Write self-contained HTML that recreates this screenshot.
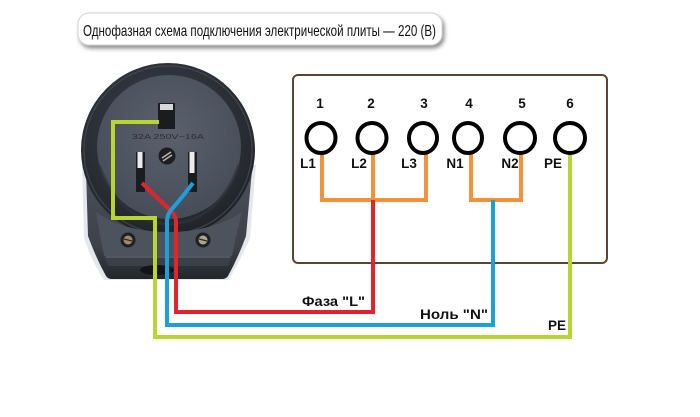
<!DOCTYPE html>
<html>
<head>
<meta charset="utf-8">
<style>
  html,body{margin:0;padding:0;background:#fff;}
  svg{display:block;}
</style>
</head>
<body>
<svg width="700" height="417" viewBox="0 0 700 417" xmlns="http://www.w3.org/2000/svg">
  <defs>
    <filter id="sh" x="-10%" y="-30%" width="120%" height="180%">
      <feGaussianBlur in="SourceAlpha" stdDeviation="2"/>
      <feOffset dx="2" dy="3" result="b"/>
      <feComponentTransfer><feFuncA type="linear" slope="0.45"/></feComponentTransfer>
      <feMerge><feMergeNode/><feMergeNode in="SourceGraphic"/></feMerge>
    </filter>
    <radialGradient id="ring" cx="0.45" cy="0.35" r="0.7">
      <stop offset="0" stop-color="#3a3e47"/>
      <stop offset="0.8" stop-color="#262930"/>
      <stop offset="1" stop-color="#1c1e23"/>
    </radialGradient>
    <radialGradient id="face" cx="0.5" cy="0.4" r="0.65">
      <stop offset="0" stop-color="#5a616d"/>
      <stop offset="1" stop-color="#454b56"/>
    </radialGradient>
    <linearGradient id="lower" x1="0" y1="0" x2="0" y2="1">
      <stop offset="0" stop-color="#4a505a"/>
      <stop offset="0.7" stop-color="#3c414a"/>
      <stop offset="1" stop-color="#23262c"/>
    </linearGradient>
  </defs>

  <!-- Title -->
  <rect x="78" y="13" width="364" height="32" rx="11" fill="#fff" stroke="#d4d4d4" stroke-width="1" filter="url(#sh)"/>
  <text x="83" y="36" font-family="Liberation Sans, sans-serif" font-size="16" fill="#111" textLength="353" lengthAdjust="spacingAndGlyphs">Однофазная схема подключения электрической плиты — 220 (В)</text>

  <!-- Socket: halo -->
  <path d="M82 165 L84 238 Q92 262 104 280 L228 280 Q240 262 250 238 L256 165 Z" fill="#c9d0da" opacity="0.5"/>
  <!-- lower body -->
  <path d="M86 170 L88 236 Q96 258 106 276 Q108 279 112 279 L222 279 Q226 279 228 276 Q238 258 246 236 L252 170 Z" fill="url(#lower)"/>
  <!-- outer round -->
  <circle cx="168" cy="150" r="87" fill="url(#ring)"/>
  <circle cx="168" cy="150" r="84" fill="none" stroke="#4a505a" stroke-width="1.2" opacity="0.7"/>
  <!-- lower plate -->
  <path d="M96 212 Q100 236 104 256 L232 256 Q236 236 242 212 Q212 232 168 232 Q124 232 96 212 Z" fill="#4d535d"/>
  <path d="M104 256 L232 256 L228 266 L108 266 Z" fill="#3a3f48"/>
  <line x1="106" y1="257" x2="230" y2="257" stroke="#6b727d" stroke-width="1"/>
  <!-- inner face -->
  <circle cx="169" cy="147" r="72" fill="url(#face)"/>
  <path d="M99 165 Q120 222 169 224 Q218 222 239 165" fill="none" stroke="#2f333a" stroke-width="3" opacity="0.7"/>
  <!-- slot -->
  <ellipse cx="157" cy="270" rx="17" ry="5" fill="#121418"/>
  <!-- screws -->
  <circle cx="128" cy="240" r="7.5" fill="#1e2024"/>
  <circle cx="128" cy="240" r="4.5" fill="#a08a6c"/>
  <line x1="124" y1="239" x2="132" y2="241" stroke="#2a2a2a" stroke-width="1.2"/>
  <circle cx="203" cy="240" r="7.5" fill="#1e2024"/>
  <circle cx="203" cy="240" r="4.5" fill="#b0a48e"/>
  <line x1="199" y1="239" x2="207" y2="241" stroke="#2a2a2a" stroke-width="1.2"/>

  <!-- face text -->
  <text x="132" y="139" font-family="Liberation Sans, sans-serif" font-size="7.5" fill="#2a2d33" textLength="72" lengthAdjust="spacingAndGlyphs">32A 250V~16A</text>

  <!-- ground pin -->
  <rect x="158" y="103" width="17" height="26" fill="#1a1c20"/>
  <rect x="160" y="104" width="13" height="6" fill="#d8d8d8"/>
  <!-- center screw -->
  <circle cx="167" cy="156" r="8.5" fill="#1c1e22"/>
  <path d="M162 158 L171 152 M163 161 L172 155" stroke="#b8b0a0" stroke-width="1.6"/>
  <!-- left pin -->
  <rect x="136" y="152" width="9" height="40" fill="#1a1c20"/>
  <rect x="137.5" y="152" width="5" height="16" fill="#ececec"/>
  <!-- right pin -->
  <rect x="188" y="152" width="9" height="40" fill="#1a1c20"/>
  <rect x="189.5" y="152" width="5" height="21" fill="#ececec"/>

  <!-- Terminal box -->
  <rect x="293" y="75" width="314" height="188" rx="5" fill="#fff" stroke="#5b4434" stroke-width="2"/>

  <!-- orange jumpers -->
  <g fill="none" stroke="#f2923a" stroke-width="4">
    <path d="M322 150 L322 200 L426 200 L426 150"/>
    <path d="M373 150 L373 200"/>
    <path d="M471 150 L471 200 L521 200 L521 150"/>
  </g>

  <!-- wires -->
  <g fill="none" stroke-width="4" stroke-linejoin="miter">
    <path d="M159 122 L113 122 L113 218 L155 218 L155 337 L570 337 L570 152" stroke="#b9d531"/>
    <path d="M142 183 L170 210 Q176 215 176 222 L176 312 L373 312 L373 200" stroke="#e0252f"/>
    <path d="M193 183 Q180 200 171 210 Q167 215 167 222 L167 325 L493 325 L493 200" stroke="#1d9fd9"/>
  </g>

  <!-- terminals -->
  <g fill="#fff" stroke="#000" stroke-width="4">
    <ellipse cx="321" cy="138" rx="14.5" ry="15"/>
    <ellipse cx="372" cy="138" rx="14.5" ry="15"/>
    <ellipse cx="423" cy="138" rx="14" ry="15"/>
    <ellipse cx="468" cy="138" rx="14" ry="15"/>
    <ellipse cx="520" cy="138" rx="15" ry="15"/>
    <ellipse cx="570" cy="138" rx="15" ry="15"/>
  </g>

  <!-- numbers -->
  <g font-family="Liberation Sans, sans-serif" font-weight="bold" font-size="13.5" fill="#111" text-anchor="middle">
    <text x="320" y="108">1</text>
    <text x="371" y="108">2</text>
    <text x="424" y="108">3</text>
    <text x="469" y="108">4</text>
    <text x="522" y="108">5</text>
    <text x="570" y="108">6</text>
  </g>
  <!-- terminal labels -->
  <g font-family="Liberation Sans, sans-serif" font-weight="bold" font-size="13.5" fill="#111" text-anchor="middle">
    <text x="308" y="168">L1</text>
    <text x="359" y="168">L2</text>
    <text x="409" y="168">L3</text>
    <text x="455" y="168">N1</text>
    <text x="510" y="168">N2</text>
    <text x="553" y="168">PE</text>
  </g>

  <!-- bottom labels -->
  <g font-family="Liberation Sans, sans-serif" font-weight="bold" font-size="14" fill="#111">
    <text x="302" y="306" textLength="63" lengthAdjust="spacingAndGlyphs">Фаза "L"</text>
    <text x="420" y="319" textLength="68" lengthAdjust="spacingAndGlyphs">Ноль "N"</text>
    <text x="548" y="330" textLength="18" lengthAdjust="spacingAndGlyphs">PE</text>
  </g>
</svg>
</body>
</html>
